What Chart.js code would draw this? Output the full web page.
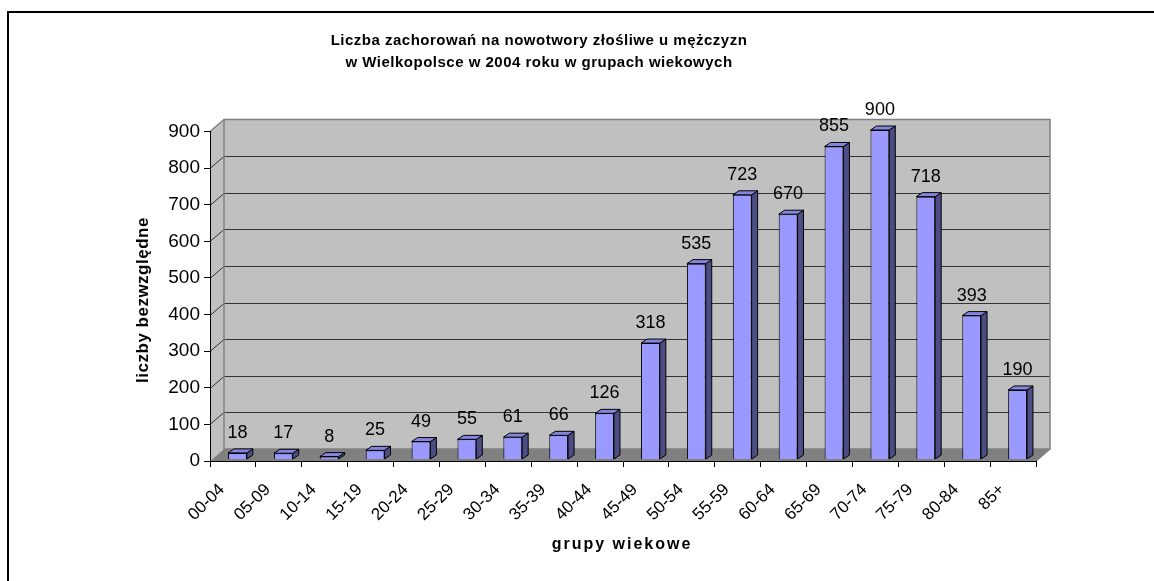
<!DOCTYPE html>
<html>
<head>
<meta charset="utf-8">
<script src="https://cdn.jsdelivr.net/npm/chart.js@4.4.1/dist/chart.umd.min.js"></script>
<style>html,body{margin:0;padding:0;background:#fff;overflow:hidden}</style>
</head>
<body>
<canvas id="chart" width="1154" height="581"></canvas>
<script>
// ── data ──
const titleLines=['Liczba zachorowań na nowotwory złośliwe u mężczyzn','w Wielkopolsce w 2004 roku w grupach wiekowych'];
const xTitle='grupy wiekowe';
const yTitle='liczby bezwzględne';
const ageGroups=['00-04','05-09','10-14','15-19','20-24','25-29','30-34','35-39','40-44','45-49','50-54','55-59','60-64','65-69','70-74','75-79','80-84','85+'];
const cases=[18,17,8,25,49,55,61,66,126,318,535,723,670,855,900,718,393,190];
const yMin=0,yMax=900,yStep=100;

// ── 3D look ──
const DX=14,DY=12;          // wall depth
const BDX=6,BDY=4;          // bar depth
const SX=4.5,SY=-1.5;       // bar shift into the box
const FONT="Arial, 'Liberation Sans', sans-serif";

function poly(ctx,pts,fill,stroke){
  ctx.beginPath();ctx.moveTo(pts[0][0],pts[0][1]);
  for(let i=1;i<pts.length;i++)ctx.lineTo(pts[i][0],pts[i][1]);
  ctx.closePath();
  if(fill){ctx.fillStyle=fill;ctx.fill();}
  if(stroke){ctx.strokeStyle=stroke;ctx.stroke();}
}

const scene={id:'scene',
  beforeDraw(chart){
    const {ctx,chartArea:a,scales:{y}}=chart;
    ctx.save();
    ctx.fillStyle='#fff';ctx.fillRect(0,0,chart.width,chart.height);
    ctx.fillStyle='#000';ctx.fillRect(7,11,chart.width,2);ctx.fillRect(7,11,2,chart.height);
    // walls + floor
    ctx.fillStyle='#c0c0c0';
    ctx.fillRect(a.left+DX,a.top-DY,a.right-a.left,a.bottom-a.top);
    poly(ctx,[[a.left,a.top],[a.left+DX,a.top-DY],[a.left+DX,a.bottom-DY],[a.left,a.bottom]],'#c0c0c0');
    poly(ctx,[[a.left,a.bottom],[a.left+DX,a.bottom-DY],[a.right+DX,a.bottom-DY],[a.right,a.bottom]],'#808080');
    // gridlines
    ctx.lineWidth=1;ctx.strokeStyle='#333';
    for(let v=yMin+yStep;v<yMax;v+=yStep){
      const py=Math.round(y.getPixelForValue(v))+.5;
      ctx.beginPath();ctx.moveTo(a.left,py);ctx.lineTo(a.left+DX,py-DY);ctx.lineTo(a.right+DX,py-DY);ctx.stroke();
    }
    // wall edges
    ctx.strokeStyle='#808080';ctx.lineWidth=1.5;
    ctx.strokeRect(a.left+DX,a.top-DY,a.right-a.left,a.bottom-a.top);
    ctx.beginPath();ctx.moveTo(a.left,a.top);ctx.lineTo(a.left+DX,a.top-DY);ctx.stroke();
    ctx.beginPath();ctx.moveTo(a.right,a.bottom);ctx.lineTo(a.right+DX,a.bottom-DY);ctx.stroke();
    ctx.restore();
  },
  beforeDatasetsDraw(chart){
    chart.ctx.save();chart.ctx.translate(SX,SY);
  },
  afterDatasetsDraw(chart){
    const ctx=chart.ctx;
    ctx.lineWidth=1;
    chart.getDatasetMeta(0).data.forEach((bar,i)=>{
      const {x,y,base,width}=bar.getProps(['x','y','base','width'],true);
      const l=x-width/2,r=x+width/2;
      poly(ctx,[[r,y],[r+BDX,y-BDY],[r+BDX,base-BDY],[r,base]],'#4d4d85','#000');
      poly(ctx,[[l,y],[l+BDX,y-BDY],[r+BDX,y-BDY],[r,y]],'#8585e0','#000');
      ctx.fillStyle='#000';ctx.font='18px '+FONT;ctx.textAlign='center';ctx.textBaseline='middle';
      ctx.fillText(String(cases[i]),x,y-20);
    });
    ctx.restore();
  },
  afterDraw(chart){
    const {ctx,scales:{x}}=chart;
    ctx.save();
    ctx.fillStyle='#000';
    // x tick labels
    ctx.font='17px '+FONT;ctx.textAlign='right';ctx.textBaseline='middle';
    ageGroups.forEach((g,i)=>{
      ctx.save();ctx.translate(x.getPixelForValue(i)-11,487);ctx.rotate(-Math.PI/4);
      ctx.fillText(g,0,0);ctx.restore();
    });
    // title
    ctx.textAlign='center';ctx.textBaseline='alphabetic';
    ctx.font='bold 15px '+FONT;ctx.letterSpacing='0.5px';
    ctx.fillText(titleLines[0],539,45);
    ctx.fillText(titleLines[1],539,66.7);
    // axis titles
    ctx.letterSpacing='2px';ctx.font='bold 16px '+FONT;ctx.textBaseline='middle';
    ctx.fillText(xTitle,622,545);
    ctx.letterSpacing='0.5px';ctx.font='bold 17px '+FONT;
    ctx.translate(143,300);ctx.rotate(-Math.PI/2);ctx.fillText(yTitle,0,0);
    ctx.restore();
  }
};

new Chart(document.getElementById('chart'),{
  type:'bar',
  data:{labels:ageGroups,datasets:[{data:cases,backgroundColor:'#9999ff',borderColor:'#000',borderWidth:1,
    barPercentage:0.41,categoryPercentage:1,clip:false}]},
  options:{responsive:false,animation:false,devicePixelRatio:1,
    layout:{padding:{top:131.5,right:118,left:0,bottom:0}},
    plugins:{legend:{display:false},tooltip:{enabled:false}},
    scales:{
      x:{grid:{offset:true,drawOnChartArea:false,drawTicks:true,tickLength:6,color:'#000'},
        border:{display:true,color:'#000',width:1},ticks:{display:false},
        afterFit(s){s.height=581-461;}},
      y:{min:yMin,max:yMax,
        ticks:{stepSize:yStep,color:'#000',padding:4,font:{family:FONT,size:19}},
        grid:{drawOnChartArea:false,drawTicks:true,tickLength:6,color:'#000'},
        border:{display:true,color:'#000',width:1},
        afterFit(s){s.width=210;}}
    }},
  plugins:[scene]
});
</script>
</body>
</html>
